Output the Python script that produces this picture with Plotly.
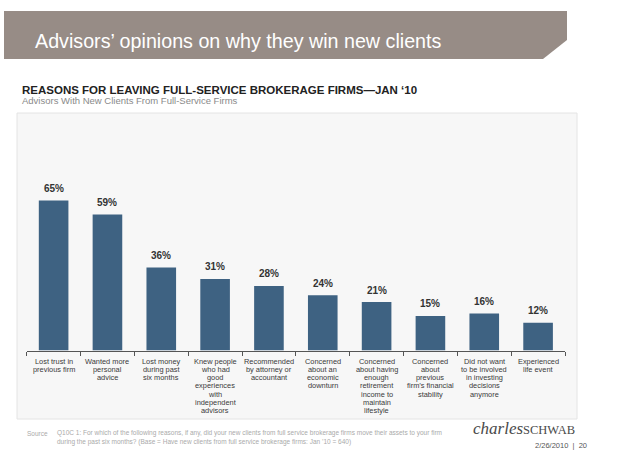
import plotly.graph_objects as go

W, H = 620, 467

categories = [
    "Lost trust in<br>previous firm",
    "Wanted more<br>personal<br>advice",
    "Lost money<br>during past<br>six months",
    "Knew people<br>who had<br>good<br>experiences<br>with<br>independent<br>advisors",
    "Recommended<br>by attorney or<br>accountant",
    "Concerned<br>about an<br>economic<br>downturn",
    "Concerned<br>about having<br>enough<br>retirement<br>income to<br>maintain<br>lifestyle",
    "Concerned<br>about<br>previous<br>firm\u2019s financial<br>stability",
    "Did not want<br>to be involved<br>in investing<br>decisions<br>anymore",
    "Experienced<br>life event",
]
values = [65, 59, 36, 31, 28, 24, 21, 15, 16, 12]
value_labels = [f"{v}%" for v in values]

banner_title = "Advisors\u2019 opinions on why they win new clients"
chart_title = "REASONS FOR LEAVING FULL-SERVICE BROKERAGE FIRMS\u2014JAN \u201810"
chart_subtitle = "Advisors With New Clients From Full-Service Firms"
source_label = "Source"
source_lines = [
    "Q10C 1: For which of the following reasons, if any, did your new clients from full service brokerage firms move their assets to your firm",
    "during the past six months? (Base = Have new clients from full service brokerage firms: Jan \u201910 = 640)",
]
date_page = "2/26/2010\u00a0\u00a0|\u00a0\u00a020"


def px(x):
    return x / W


def py(y):
    return 1 - y / H


BAR = "#3e6282"
BANNER = "#978c86"
SANS = "Liberation Sans, Arial"

fig = go.Figure()
fig.add_trace(go.Bar(
    x=categories, y=values, marker_color=BAR, marker_line_width=0,
    hoverinfo="skip",
))

shapes = []
# banner with chamfered corner
pts = [(4, 11), (567, 11), (567, 40), (543, 59), (4, 59)]
path = "M " + " L ".join(f"{px(a):.5f},{py(b):.5f}" for a, b in pts) + " Z"
shapes.append(dict(type="path", path=path, xref="paper", yref="paper",
                   fillcolor=BANNER, line=dict(width=0), layer="below"))
# panel
shapes.append(dict(type="rect", xref="paper", yref="paper",
                   x0=px(17), x1=px(577), y0=py(419), y1=py(113),
                   fillcolor="#f7f7f7", line=dict(color="#e4e4e4", width=1),
                   layer="below"))

ann = []


def add(text, x, y, size, color, xanchor="left", family=SANS, xref="paper", yref="paper", **kw):
    ann.append(dict(text=text, x=x, y=y, xref=xref, yref=yref,
                    xanchor=xanchor, yanchor="middle", showarrow=False, borderpad=0,
                    font=dict(family=family, size=size, color=color), **kw))


add(banner_title, px(34), py(41), 19.7, "white")
add(f"<b>{chart_title}</b>", px(21), py(90), 11.5, "#222222")
add(chart_subtitle, px(21), py(100.5), 9.5, "#8a8a8a")

# value labels
for c, v, t in zip(categories, values, value_labels):
    add(f"<b>{t}</b>", c, v, 10, "#333333", xanchor="center", xref="x", yref="y", yshift=12)

# category labels, line by line
for c in categories:
    for i, line in enumerate(c.split("<br>")):
        add(line, c, py(361 + i * 8.3), 7.4, "#3a3a3a", xanchor="center", xref="x")

# footer
add(source_label, px(26), py(433), 6.5, "#aaaaaa")
for i, line in enumerate(source_lines):
    add(line, px(56), py(433 + i * 9), 6.5, "#aaaaaa")
add("<i>charles</i><span style='font-size:12.5px'>SCHWAB</span>", px(472), py(428), 17,
    "#4a4a4a", family="Liberation Serif, Times New Roman")
add(date_page, px(588), py(445), 7.5, "#555555", xanchor="right")

fig.update_layout(
    width=W, height=H,
    margin=dict(l=0, r=0, t=0, b=0),
    paper_bgcolor="white", plot_bgcolor="rgba(0,0,0,0)",
    showlegend=False, bargap=0.45,
    shapes=shapes, annotations=ann,
    xaxis=dict(domain=[px(26.7), px(565)], showticklabels=False,
               showline=True, linecolor="#555555", linewidth=1,
               ticks="outside", tickson="boundaries", ticklen=4, tickcolor="#555555",
               showgrid=False, zeroline=False, fixedrange=True),
    yaxis=dict(domain=[py(350.5), py(189)], range=[0, 70], visible=False,
               showgrid=False, zeroline=False, fixedrange=True),
)

fig.write_html("out.html")
